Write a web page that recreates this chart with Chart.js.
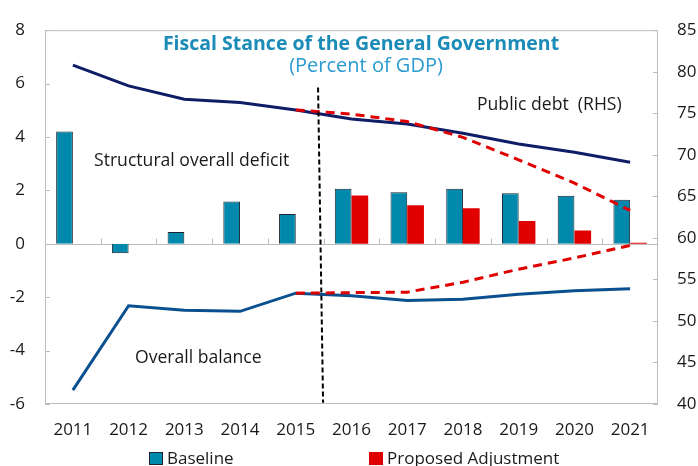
<!DOCTYPE html>
<html>
<head>
<meta charset="utf-8">
<script src="https://cdn.jsdelivr.net/npm/chart.js@4.4.1/dist/chart.umd.min.js"></script>
<style>
  html, body { margin: 0; padding: 0; background: #fff; }
  #wrap { width: 698px; height: 466px; position: relative; }
</style>
</head>
<body>
<div id="wrap"><canvas id="fiscalChart"></canvas></div>
<script>
// ===============================
// Fiscal stance – data
// ===============================
const years = ["2011", "2012", "2013", "2014", "2015", "2016", "2017", "2018", "2019", "2020", "2021"];

// Structural overall deficit (LHS, % of GDP)
const deficitBaseline = [4.21, -0.35, 0.44, 1.58, 1.12, 2.06, 1.93, 2.06, 1.89, 1.80, 1.65];
const deficitProposed = [null, null, null, null, null, 1.81, 1.44, 1.33, 0.85, 0.50, 0.04];

// Public debt (RHS, % of GDP)
const debtBaseline = [80.8, 78.3, 76.7, 76.3, 75.4, 74.3, 73.7, 72.6, 71.3, 70.3, 69.1];
const debtProposed = [null, null, null, null, 75.4, 74.9, 74.0, 72.1, 69.4, 66.6, 63.3];

// Overall balance (LHS, % of GDP)
const balanceBaseline = [-5.48, -2.32, -2.49, -2.53, -1.85, -1.95, -2.12, -2.08, -1.89, -1.76, -1.68];
const balanceProposed = [null, null, null, null, -1.85, -1.83, -1.81, -1.44, -0.95, -0.53, -0.06];

// Axis ticks
const leftTicks = [-6, -4, -2, 0, 2, 4, 6, 8];
const rightTicks = [40, 45, 50, 55, 60, 65, 70, 75, 80, 85];

// Projection divider between 2015 and 2016 (category index, LHS value)
const dividerTop = [4.40, 5.85];
const dividerBottom = [4.49, -5.95];

// ===============================
// Styling
// ===============================
const FONT = "'Open Sans', 'Noto Sans', sans-serif";
const TEAL = "#0088ad";
const RED = "#e00000";
const NAVY = "#0f1d66";
const BLUE = "#0a4f8f";
const AXIS_GREY = "#bdbdbd";
const TEXT = "#1a1a1a";

// Frame, zero line, tick marks, divider, titles and notes
const decorPlugin = {
  id: "decor",
  beforeDatasetsDraw(chart) {
    const { ctx, chartArea: a, scales } = chart;
    const x = scales.x, y = scales.y, y2 = scales.y2;
    ctx.save();
    ctx.strokeStyle = AXIS_GREY;
    ctx.lineWidth = 1;

    // frame
    ctx.strokeRect(a.left + 0.5, a.top + 0.5, a.right - a.left - 1, a.bottom - a.top - 1);

    // zero line with category ticks pointing up
    const zy = Math.round(y.getPixelForValue(0)) + 0.5;
    ctx.beginPath();
    ctx.moveTo(a.left, zy);
    ctx.lineTo(a.right, zy);
    const step = x.getPixelForValue(1) - x.getPixelForValue(0);
    for (let i = 1; i < years.length; i++) {
      const px = Math.round(x.getPixelForValue(i) - step / 2) + 0.5;
      ctx.moveTo(px, zy);
      ctx.lineTo(px, zy - 6);
    }
    // value ticks pointing inward
    leftTicks.forEach(v => {
      const py = Math.round(y.getPixelForValue(v)) + 0.5;
      ctx.moveTo(a.left, py);
      ctx.lineTo(a.left + 5, py);
    });
    rightTicks.forEach(v => {
      const py = Math.round(y2.getPixelForValue(v)) + 0.5;
      ctx.moveTo(a.right, py);
      ctx.lineTo(a.right - 5, py);
    });
    ctx.stroke();
    ctx.restore();
  },
  afterDatasetsDraw(chart) {
    const { ctx, scales } = chart;
    const x = scales.x, y = scales.y;
    ctx.save();

    // dashed projection divider
    ctx.strokeStyle = "#000";
    ctx.lineWidth = 2;
    ctx.setLineDash([5, 3]);
    ctx.beginPath();
    ctx.moveTo(x.getPixelForValue(dividerTop[0]), y.getPixelForValue(dividerTop[1]));
    ctx.lineTo(x.getPixelForValue(dividerBottom[0]), y.getPixelForValue(dividerBottom[1]));
    ctx.stroke();
    ctx.setLineDash([]);

    // title
    ctx.textAlign = "center";
    ctx.textBaseline = "middle";
    ctx.fillStyle = "#1b8bb7";
    ctx.font = "bold 19.5px " + FONT;
    ctx.fillText("Fiscal Stance of the General Government", 361, 44);
    ctx.fillStyle = "#2a9bd0";
    ctx.font = "20px " + FONT;
    ctx.fillText("(Percent of GDP)", 366, 66);

    // series notes
    ctx.textAlign = "left";
    ctx.fillStyle = TEXT;
    ctx.font = "17.6px " + FONT;
    ctx.fillText("Public debt  (RHS)", 477, 105);
    ctx.fillText("Structural overall deficit", 94, 161);
    ctx.fillText("Overall balance", 135, 358);

    // legend for the two bar series
    const items = [
      { ds: chart.data.datasets[0], x: 149 },
      { ds: chart.data.datasets[1], x: 369 }
    ];
    ctx.font = "17px " + FONT;
    items.forEach(it => {
      ctx.fillStyle = it.ds.backgroundColor;
      ctx.fillRect(it.x, 452, 14, 13);
      if (it.ds.borderWidth) {
        ctx.strokeStyle = it.ds.borderColor;
        ctx.lineWidth = 1;
        ctx.strokeRect(it.x + 0.5, 452.5, 13, 12);
      }
      ctx.fillStyle = TEXT;
      ctx.fillText(it.ds.label, it.x + 18, 459);
    });
    ctx.restore();
  }
};

// ===============================
// Chart
// ===============================
function initFiscalChart() {
  const canvas = document.getElementById("fiscalChart");
  if (!canvas || !window.Chart) return;

  new Chart(canvas, {
    type: "bar",
    data: {
      labels: years,
      datasets: [
        {
          label: "Baseline",
          data: deficitBaseline,
          backgroundColor: TEAL,
          borderColor: "#1c2530",
          borderWidth: 1,
          yAxisID: "y",
          order: 2
        },
        {
          label: "Proposed Adjustment",
          data: deficitProposed,
          backgroundColor: RED,
          borderWidth: 0,
          yAxisID: "y",
          order: 2
        },
        {
          type: "line",
          label: "Public debt",
          data: debtBaseline,
          borderColor: NAVY,
          borderWidth: 3,
          pointRadius: 0,
          tension: 0,
          yAxisID: "y2",
          order: 1
        },
        {
          type: "line",
          label: "Public debt (adjusted)",
          data: debtProposed,
          borderColor: RED,
          borderWidth: 3,
          borderDash: [9, 6],
          pointRadius: 0,
          tension: 0,
          yAxisID: "y2",
          order: 0
        },
        {
          type: "line",
          label: "Overall balance",
          data: balanceBaseline,
          borderColor: BLUE,
          borderWidth: 3,
          pointRadius: 0,
          tension: 0,
          yAxisID: "y",
          order: 1
        },
        {
          type: "line",
          label: "Overall balance (adjusted)",
          data: balanceProposed,
          borderColor: RED,
          borderWidth: 3,
          borderDash: [9, 6],
          pointRadius: 0,
          tension: 0,
          yAxisID: "y",
          order: 0
        }
      ]
    },
    options: {
      responsive: true,
      maintainAspectRatio: false,
      animation: false,
      layout: { padding: { top: 25, left: 0, right: 0, bottom: 0 } },
      datasets: {
        bar: { categoryPercentage: 0.6, barPercentage: 1.0 }
      },
      plugins: {
        legend: { display: false },
        tooltip: { enabled: false },
        title: { display: false }
      },
      scales: {
        x: {
          grid: { display: false, drawTicks: false },
          border: { display: false },
          ticks: { color: TEXT, font: { family: FONT, size: 17 }, padding: 16, maxRotation: 0 },
          afterFit: s => { s.height = 62; }
        },
        y: {
          position: "left",
          min: -6,
          max: 8,
          grid: { display: false, drawTicks: false },
          border: { display: false },
          afterBuildTicks: s => { s.ticks = leftTicks.map(v => ({ value: v })); },
          ticks: { color: TEXT, font: { family: FONT, size: 17 }, padding: 20 },
          afterFit: s => { s.width = 45; }
        },
        y2: {
          position: "right",
          min: 40,
          max: 85,
          grid: { display: false, drawTicks: false },
          border: { display: false },
          afterBuildTicks: s => { s.ticks = rightTicks.map(v => ({ value: v })); },
          ticks: { color: TEXT, font: { family: FONT, size: 17 }, padding: 19 },
          afterFit: s => { s.width = 40; }
        }
      }
    },
    plugins: [decorPlugin]
  });
}

document.addEventListener("DOMContentLoaded", initFiscalChart);
</script>
</body>
</html>
